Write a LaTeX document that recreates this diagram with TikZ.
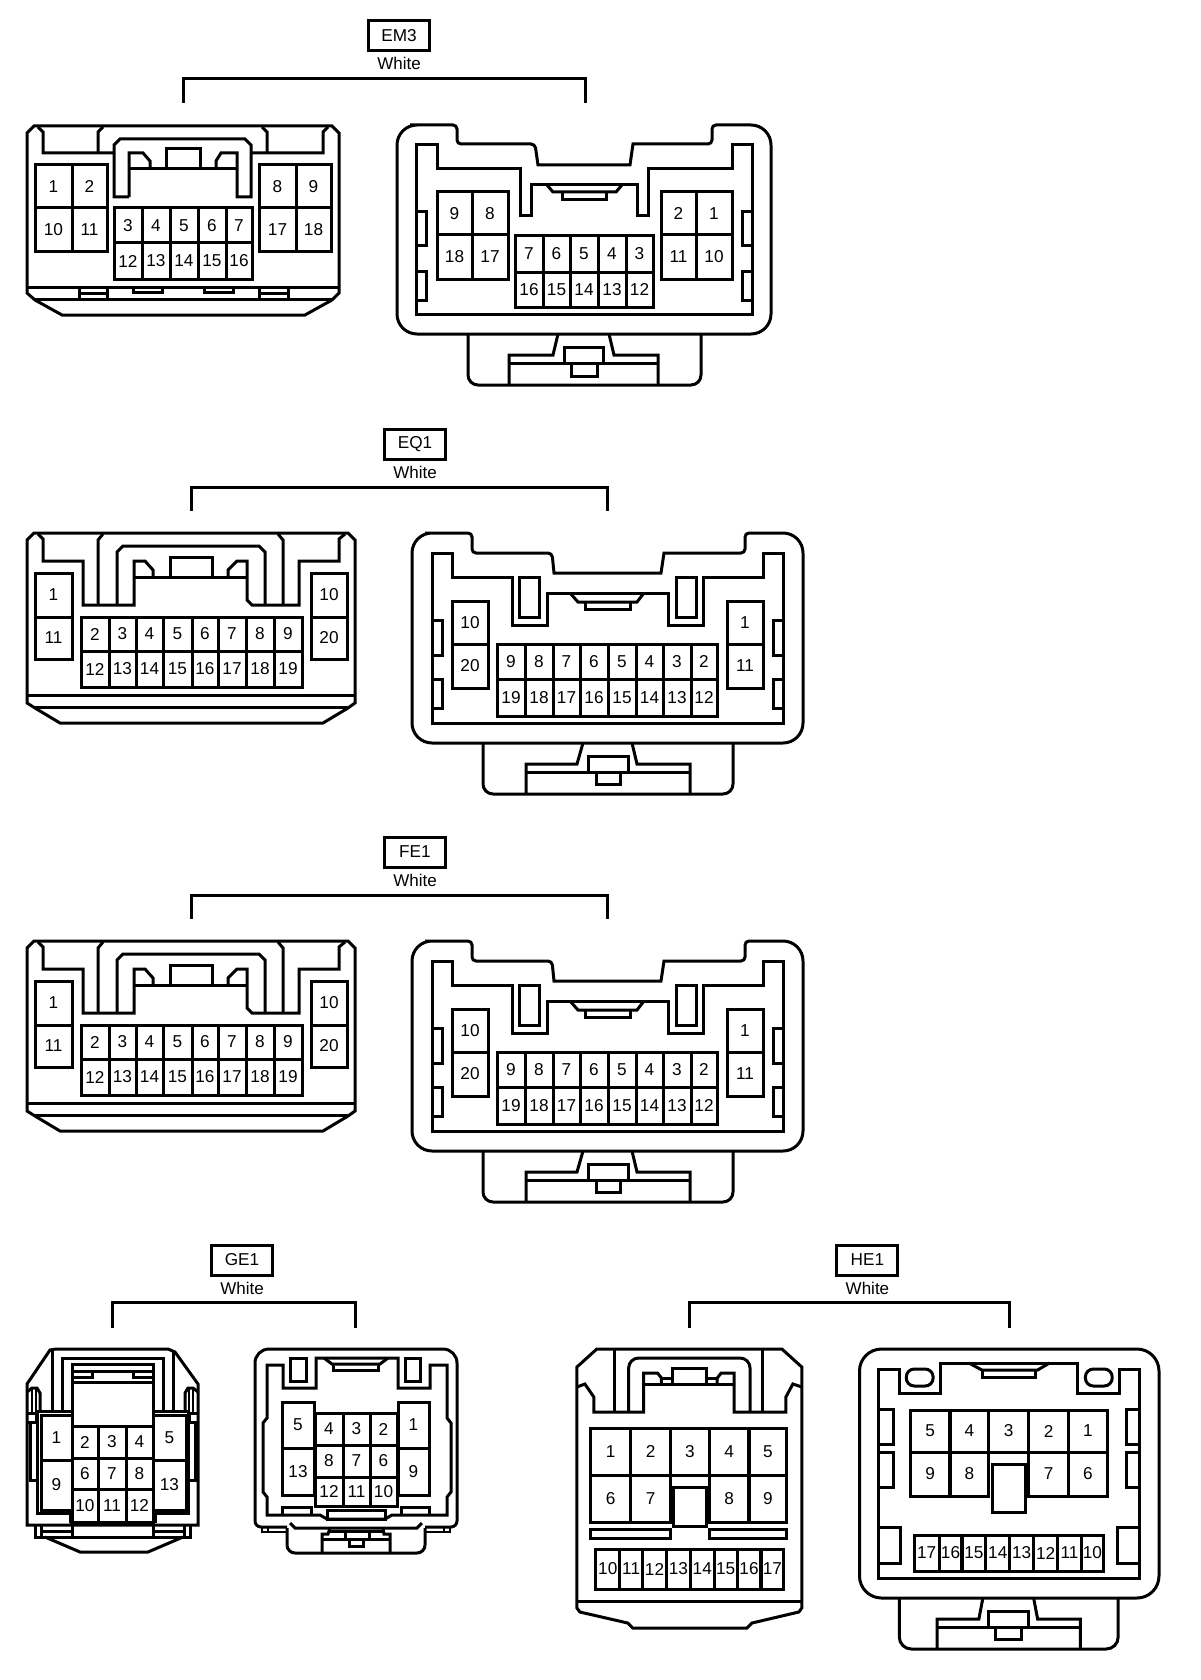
\documentclass[tikz,border=0pt]{standalone}
\usepackage{fontspec}
\setmainfont{Liberation Sans}
\tikzset{
	pinbox/.style={draw,rectangle,inner sep=0pt,outer sep=0pt,font=\fontsize{8.6}{9}\selectfont},
	tagbox/.style={draw,rectangle,inner sep=0pt,minimum width=30.5pt,minimum height=15pt,font=\fontsize{8.6}{9}\selectfont},
	colourtag/.style={inner sep=0pt,font=\fontsize{8.5}{9}\selectfont},
	fine/.style={line width=0.8pt}
}
% one row of pins: name prefix, top, bottom, left/right/label list
\newcommand{\pinrow}[4]{\foreach \xa/\xb/\lab in {#4} {\node[pinbox,minimum width={(\xb-\xa)*0.5pt},minimum height={(#3-#2)*0.5pt}] (#1\lab) at ({(\xa+\xb)/2},{(#2+#3)/2}) {\lab};}}
\begin{document}
\begin{tikzpicture}[x=0.5pt,y=-0.5pt,line width=1.5pt]
\useasboundingbox (0,0) rectangle (1200,1680);

% EM3
\node[tagbox] (emtag) at (399,35.5) {EM3};
\node[colourtag] (emcol) at (399,63) {White};
\coordinate (emleft) at (183,103);
\coordinate (emright) at (585,103);
\draw (emleft) -- ++(0,-24) -| (emright);

\draw (27,133) -- (34,126) -- (332,126) -- (339,133) -- (339,293) -- (332,300) -- (305,315) -- (62,315) -- (35,300) -- (27,293) -- cycle;
\draw (27,287) -- (339,287);
\draw (35,299) -- (332,299);
\draw (38,127) -- (43,132) -- (43,153) -- (114,153);
\draw (98,153) -- (98,132) -- (103,127);
\draw (251,153) -- (323,153) -- (323,132) -- (328,127);
\draw (267,153) -- (267,132) -- (262,127);
\draw (129,197) -- (114,197) -- (114,145) -- (120,139) -- (245,139) -- (251,145) -- (251,197) -- (237,197) -- (237,153) -- (221,153) -- (216,161) -- (216,169);
\draw (129,197) -- (129,153) -- (143,153) -- (150,161) -- (150,169);
\draw (129,169) -- (237,169);
\draw (166,169) -- (166,149) -- (200,149) -- (200,169);
\draw (79,287) -- (79,299) (107,287) -- (107,299) (79,293) -- (107,293);
\draw (259,287) -- (259,299) (288,287) -- (288,299) (259,293) -- (288,293);
\draw (133,287) -- (133,292) -- (162,292) -- (162,287);
\draw (204,287) -- (204,292) -- (233,292) -- (233,287);
\pinrow{emla}{165}{208}{35/72/1,72/107/2,259/296/8,296/331/9}
\pinrow{emla}{208}{252}{35/72/10,72/107/11,259/296/17,296/331/18}
\pinrow{emla}{208}{243}{114/142/3,142/170/4,170/198/5,198/226/6,226/252/7}
\pinrow{emla}{243}{279}{114/142/12,142/170/13,170/198/14,198/226/15,226/252/16}

\draw[rounded corners=10pt] (397,200) -- (397,125) -- (430,125) [rounded corners=2pt] -- (457,125) -- (457,144) -- (535,144) [sharp corners] -- (538,165) -- (630,165) -- (633,144) [rounded corners=2pt] -- (712,144) -- (712,125) [rounded corners=10pt] -- (771,125) -- (771,334) -- (397,334) -- (397,200) -- cycle;
\draw (416,314) -- (416,145) -- (437,145) -- (437,169) -- (520,169) -- (520,216) -- (531,216) -- (531,185) -- (637,185) -- (637,216) -- (648,216) -- (648,169) -- (732,169) -- (732,145) -- (752,145) -- (752,314) -- cycle;
\draw (547,185) -- (553,192) -- (616,192) -- (622,185);
\draw (562,192) -- (562,200) -- (606,200) -- (606,192);
\draw (416,212) -- (426,212) -- (426,246) -- (416,246);
\draw (416,271) -- (426,271) -- (426,300) -- (416,300);
\draw (752,212) -- (742,212) -- (742,246) -- (752,246);
\draw (752,271) -- (742,271) -- (742,300) -- (752,300);
\pinrow{emra}{192}{235}{437/472/9,472/508/8,661/696/2,696/732/1}
\pinrow{emra}{235}{279}{437/472/18,472/508/17,661/696/11,696/732/10}
\pinrow{emra}{236}{272}{515/543/7,543/570/6,570/598/5,598/626/4,626/653/3}
\pinrow{emra}{272}{307}{515/543/16,543/570/15,570/598/14,598/626/13,626/653/12}
\draw[rounded corners=5pt] (468,334) -- (468,385) -- (701,385) -- (701,334);
\draw (509,385) -- (509,355) -- (553,355) -- (558,334);
\draw (658,385) -- (658,355) -- (614,355) -- (609,334);
\draw (509,363) -- (658,363);
\draw (564,363) -- (564,347) -- (603,347) -- (603,363);
\draw (571,363) -- (571,376) -- (597,376) -- (597,363);

% EQ1 and FE1 are the same housing
\foreach \nm/\lbl/\dy in {eq/EQ1/0,fe/FE1/408} {
\begin{scope}[shift={(0,\dy)}]
\node[tagbox] (\nm tag) at (415,444) {\lbl};
\node[colourtag] (\nm col) at (415,472) {White};
\coordinate (\nm left) at (191,511);
\coordinate (\nm right) at (607,511);
\draw (\nm left) -- ++(0,-24) -| (\nm right);

\draw (27,540) -- (34,533) -- (348,533) -- (355,540) -- (355,703) -- (348,708) -- (323,723) -- (60,723) -- (35,708) -- (27,703) -- cycle;
\draw (27,695) -- (355,695);
\draw (35,707) -- (348,707);
\draw (38,534) -- (43,539) -- (43,561) -- (83,561) -- (83,605) -- (134,605) -- (134,561) -- (145,561) -- (153,570) -- (153,577);
\draw (134,577) -- (247,577);
\draw (170,577) -- (170,557) -- (212,557) -- (212,577);
\draw (228,577) -- (228,570) -- (237,561) -- (247,561) -- (247,600) -- (252,605) -- (299,605) -- (299,561) -- (339,561) -- (339,539) -- (345,534);
\draw (98,605) -- (98,540) -- (103,534);
\draw (283,605) -- (283,540) -- (278,534);
\draw (117,605) -- (117,552) -- (123,546) -- (259,546) -- (265,552) -- (265,605);
\pinrow{\nm la}{573}{617}{35/72/1,311/347/10}
\pinrow{\nm la}{617}{659}{35/72/11,311/347/20}
\pinrow{\nm la}{617}{651}{81/109/2,109/136/3,136/163/4,163/192/5,192/218/6,218/246/7,246/274/8,274/302/9}
\pinrow{\nm la}{651}{687}{81/109/12,109/136/13,136/163/14,163/192/15,192/218/16,218/246/17,246/274/18,274/302/19}

\draw[rounded corners=10pt] (412,600) -- (412,533) -- (445,533) [rounded corners=2pt] -- (472,533) -- (472,553) -- (552,553) [sharp corners] -- (554,573) -- (661,573) -- (664,553) [rounded corners=2pt] -- (745,553) -- (745,533) [rounded corners=10pt] -- (803,533) -- (803,743) -- (412,743) -- (412,600) -- cycle;
\draw (432,723) -- (432,553) -- (452,553) -- (452,577) -- (512,577) -- (512,625) -- (547,625) -- (547,593) -- (668,593) -- (668,625) -- (703,625) -- (703,577) -- (763,577) -- (763,553) -- (783,553) -- (783,723) -- cycle;
\draw (519,577) rectangle (539,617);
\draw (676,577) rectangle (696,617);
\draw (570,593) -- (578,602) -- (637,602) -- (644,593);
\draw (585,602) -- (585,609) -- (630,609) -- (630,602);
\draw (432,620) -- (442,620) -- (442,655) -- (432,655);
\draw (432,679) -- (442,679) -- (442,708) -- (432,708);
\draw (783,620) -- (773,620) -- (773,655) -- (783,655);
\draw (783,679) -- (773,679) -- (773,708) -- (783,708);
\pinrow{\nm ra}{601}{644}{452/488/10,727/763/1}
\pinrow{\nm ra}{644}{688}{452/488/20,727/763/11}
\pinrow{\nm ra}{644}{679}{497/525/9,525/553/8,553/580/7,580/608/6,608/636/5,636/663/4,663/691/3,691/717/2}
\pinrow{\nm ra}{679}{716}{497/525/19,525/553/18,553/580/17,580/608/16,608/636/15,636/663/14,663/691/13,691/717/12}
\draw[rounded corners=5pt] (483,743) -- (483,794) -- (733,794) -- (733,743);
\draw (526,794) -- (526,764) -- (577,764) -- (583,743);
\draw (690,794) -- (690,764) -- (637,764) -- (632,743);
\draw (526,772) -- (690,772);
\draw (588,772) -- (588,756) -- (628,756) -- (628,772);
\draw (596,772) -- (596,784) -- (620,784) -- (620,772);
\end{scope}
}

% GE1
\node[tagbox] (getag) at (242,1260) {GE1};
\node[colourtag] (gecol) at (242,1288) {White};
\coordinate (geleft) at (112,1328);
\coordinate (geright) at (355,1328);
\draw (geleft) -- ++(0,-26) -| (geright);

\draw (27,1384) -- (50,1350) -- (56,1349) -- (168,1349) -- (175,1352) -- (198,1384) -- (198,1525) -- (27,1525) -- cycle;
\draw (35,1525) -- (35,1537) -- (190,1537) -- (190,1525);
\draw (45,1537) -- (80,1552) -- (148,1552) -- (183,1537);
\draw (52,1351) -- (52,1411);
\draw (173,1351) -- (173,1411);
\draw (62,1411) -- (62,1358) -- (163,1358) -- (163,1411);
\draw (72,1426) -- (72,1364) -- (153,1364) -- (153,1426);
\draw (72,1371) -- (153,1371);
\draw (72,1377) -- (92,1377) -- (92,1371);
\draw (153,1377) -- (133,1377) -- (133,1371);
\draw (72,1382) -- (153,1382);
\draw (37,1411) -- (72,1411) (153,1411) -- (188,1411);
\draw (72,1525) -- (72,1537) (153,1525) -- (153,1537);
\draw (70,1522) -- (155,1522);
\foreach \mir/\xs in {0/1,225/-1} {
\begin{scope}[shift={(\mir,0)},xscale=\xs]
\draw (37,1411) -- (37,1513) -- (70,1513) -- (70,1523);
\draw (41,1525) -- (41,1537) (41,1531) -- (72,1531);
\draw (27,1392) -- (32,1388) -- (37,1388) -- (40,1393) -- (40,1411);
\draw[fine] (32,1388) -- (32,1413) (36,1388) -- (36,1413);
\draw (28,1413) -- (36,1413) -- (36,1422) -- (28,1422);
\draw (30,1422) -- (30,1480) -- (36,1480);
\end{scope}
}
\pinrow{gela}{1415}{1460}{41/72/1,153/186/5}
\pinrow{gela}{1460}{1510}{41/72/9,153/186/13}
\pinrow{gela}{1426}{1458}{72/98/2,98/126/3,126/153/4}
\pinrow{gela}{1458}{1489}{72/98/6,98/126/7,126/153/8}
\pinrow{gela}{1489}{1522}{72/98/10,98/126/11,126/153/12}

\draw[rounded corners=7pt] (255,1440) -- (255,1349) -- (457,1349) -- (457,1440);
\draw[rounded corners=3pt] (255,1440) -- (255,1527) -- (287,1527);
\draw[rounded corners=3pt] (457,1440) -- (457,1527) -- (425,1527);
\draw[fine] (262,1527) -- (262,1532) -- (287,1532) (268,1527) -- (268,1532);
\draw[fine] (450,1527) -- (450,1532) -- (425,1532) (444,1527) -- (444,1532);
\draw (290,1523) -- (295,1528) -- (417,1528) -- (422,1523);
\draw[rounded corners=4pt] (287,1528) -- (287,1553) -- (425,1553) -- (425,1528);
\draw (322,1553) -- (322,1534) -- (328,1534) -- (330,1528);
\draw (390,1553) -- (390,1534) -- (384,1534) -- (383,1528);
\draw (330,1531) -- (383,1531);
\draw (322,1539) -- (390,1539);
\draw (345,1539) -- (345,1531) (369,1531) -- (369,1539);
\draw (349,1539) -- (349,1546) -- (363,1546) -- (363,1539);
\draw (267,1365) -- (283,1365) -- (283,1388) -- (316,1388) -- (316,1358) -- (398,1358) -- (398,1388) -- (430,1388) -- (430,1365) -- (447,1365) -- (447,1418) -- (451,1423) -- (451,1492) -- (447,1497) -- (447,1515) -- (392,1515) -- (385,1519) -- (327,1519) -- (320,1515) -- (267,1515) -- (267,1497) -- (263,1492) -- (263,1423) -- (267,1418) -- cycle;
\draw (290,1358) rectangle (306,1381);
\draw (405,1358) rectangle (420,1381);
\draw (324,1358) -- (332,1364) -- (380,1364) -- (388,1358);
\draw (333,1364) -- (333,1370) -- (378,1370) -- (378,1364);
\draw (327,1510) rectangle (385,1519);
\draw (282,1515) -- (282,1507) -- (311,1507) -- (311,1515);
\draw (401,1515) -- (401,1507) -- (429,1507) -- (429,1515);
\pinrow{gera}{1402}{1448}{282/314/5,398/429/1}
\pinrow{gera}{1448}{1495}{282/314/13,398/429/9}
\pinrow{gera}{1413}{1445}{315/343/4,343/370/3,370/397/2}
\pinrow{gera}{1445}{1477}{315/343/8,343/370/7,370/397/6}
\pinrow{gera}{1477}{1506}{315/343/12,343/370/11,370/397/10}

% HE1
\begin{scope}[shift={(560,0)},xscale=0.995,shift={(-560,0)}]
\node[tagbox] (hetag) at (869,1260) {HE1};
\node[colourtag] (hecol) at (869,1288) {White};
\coordinate (heleft) at (690,1328);
\coordinate (heright) at (1012,1328);
\draw (heleft) -- ++(0,-26) -| (heright);

\draw (577,1367) -- (597,1349) -- (783,1349) -- (803,1367) -- (803,1608) -- (800,1612) -- (753,1623) -- (748,1628) -- (633,1628) -- (628,1623) -- (580,1612) -- (577,1608) -- cycle;
\draw (577,1601) -- (803,1601);
\draw (577,1387) -- (585,1384) -- (594,1397) -- (594,1412) -- (644,1412) -- (644,1373) -- (658,1373) -- (662,1378) -- (662,1384);
\draw (803,1387) -- (794,1384) -- (787,1397) -- (787,1412) -- (735,1412) -- (735,1373) -- (722,1373) -- (718,1378) -- (718,1384);
\draw (644,1384) -- (735,1384);
\draw (673,1384) -- (673,1368) -- (707,1368) -- (707,1384);
\draw (662,1378) -- (673,1378) (707,1378) -- (718,1378);
\draw (615,1412) -- (615,1350) (764,1412) -- (764,1350);
\draw[rounded corners=5pt] (629,1412) -- (629,1358) -- (751,1358) -- (751,1412);
\pinrow{hela}{1428}{1475}{591/631/1,631/671/2,671/710/3,710/750/4,750/788/5}
\pinrow{hela}{1475}{1522}{591/631/6,631/671/7,710/750/8,750/788/9}
\draw (674,1487) rectangle (707,1526);
\draw (591,1529) rectangle (671,1538);
\draw (710,1529) rectangle (788,1538);
\pinrow{hela}{1549}{1589}{596/620/10,620/643/11,643/667/12,667/691/13,691/715/14,715/738/15,738/762/16,762/785/17}

\draw[rounded corners=11pt] (861,1450) -- (861,1349) -- (1162,1349) -- (1162,1598) -- (861,1598) -- cycle;
\draw (880,1578) -- (880,1369) -- (901,1369) -- (901,1393) -- (942,1393) -- (942,1363) -- (1080,1363) -- (1080,1393) -- (1122,1393) -- (1122,1369) -- (1142,1369) -- (1142,1578) -- cycle;
\draw[rounded corners=4pt] (908,1369) rectangle (935,1386);
\draw[rounded corners=4pt] (1088,1369) rectangle (1115,1386);
\draw (971,1363) -- (984,1370) -- (1040,1370) -- (1052,1363);
\draw (985,1370) -- (985,1377) -- (1038,1377) -- (1038,1370);
\draw (880,1409) -- (895,1409) -- (895,1444) -- (880,1444);
\draw (880,1452) -- (895,1452) -- (895,1487) -- (880,1487);
\draw (880,1527) -- (902,1527) -- (902,1563) -- (880,1563);
\draw (1142,1409) -- (1129,1409) -- (1129,1444) -- (1142,1444);
\draw (1142,1452) -- (1129,1452) -- (1129,1487) -- (1142,1487);
\draw (1142,1527) -- (1120,1527) -- (1120,1563) -- (1142,1563);
\pinrow{hera}{1410}{1452}{912/952/5,952/991/4,991/1031/3,1031/1071/2,1071/1110/1}
\pinrow{hera}{1452}{1496}{912/952/9,952/991/8,1031/1071/7,1071/1110/6}
\draw (995,1464) rectangle (1028,1512);
\pinrow{hera}{1535}{1571}{916/941/17,941/964/16,964/988/15,988/1012/14,1012/1036/13,1036/1060/12,1060/1084/11,1084/1106/10}
\draw[rounded corners=6pt] (901,1598) -- (901,1649) -- (1121,1649) -- (1121,1598);
\draw (939,1649) -- (939,1619) -- (981,1619) -- (985,1598);
\draw (1083,1649) -- (1083,1619) -- (1040,1619) -- (1036,1598);
\draw (939,1627) -- (1083,1627);
\draw (991,1627) -- (991,1611) -- (1031,1611) -- (1031,1627);
\draw (998,1627) -- (998,1639) -- (1024,1639) -- (1024,1627);
\end{scope}
\end{tikzpicture}
\end{document}
